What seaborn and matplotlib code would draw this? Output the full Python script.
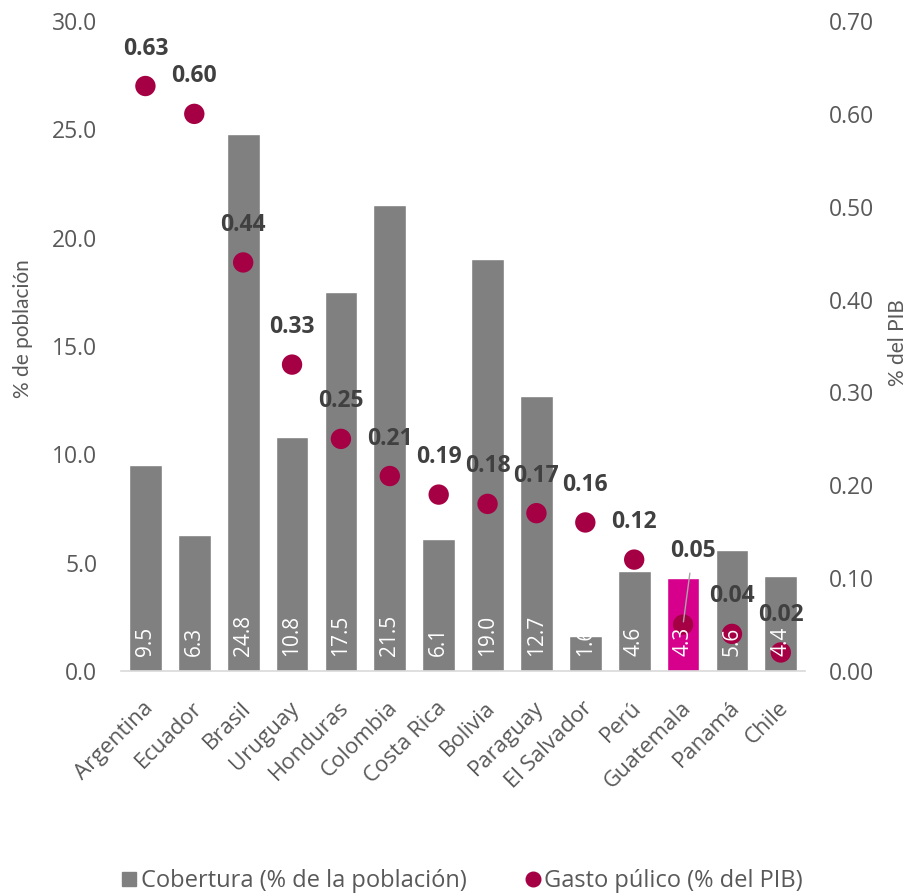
import numpy as np
import pandas as pd
import seaborn as sns
import matplotlib.pyplot as plt
import matplotlib.transforms as mtransforms
from matplotlib.lines import Line2D

# data
paises = ["Argentina", "Ecuador", "Brasil", "Uruguay", "Honduras", "Colombia", "Costa Rica",
          "Bolivia", "Paraguay", "El Salvador", "Perú", "Guatemala", "Panamá", "Chile"]
cobertura = [9.5, 6.3, 24.8, 10.8, 17.5, 21.5, 6.1, 19.0, 12.7, 1.6, 4.6, 4.3, 5.6, 4.4]
gasto = [0.63, 0.60, 0.44, 0.33, 0.25, 0.21, 0.19, 0.18, 0.17, 0.16, 0.12, 0.05, 0.04, 0.02]
destacado = "Guatemala"

GRIS = "#808080"
MAGENTA = "#D6008D"
GRANATE = "#A50044"
TXT = "#595959"

sns.set_theme(style="white")
plt.rcParams['font.family'] = ['Open Sans', 'DejaVu Sans']

df = pd.DataFrame({"pais": paises, "cobertura": cobertura, "gasto": gasto})
colores = {p: (MAGENTA if p == destacado else GRIS) for p in paises}

fig = plt.figure(figsize=(9.13, 8.94), dpi=100)
ax = fig.add_axes([0.1325, 0.2494, 0.7495, 0.7271])

sns.barplot(data=df, x="pais", y="cobertura", hue="pais", palette=colores,
            width=0.67, legend=False, saturation=1, ax=ax)
ax.set_xlim(-0.5, len(paises) - 0.5)
ax.set_ylim(0, 30)
ax.set_yticks(np.arange(0, 30.1, 5))
ax.set_yticklabels([f"{v:.1f}" for v in np.arange(0, 30.1, 5)])
ax.set_xlabel("")
ax.set_ylabel("% de población", fontsize=15, color=TXT, family="Lato")
ax.yaxis.set_label_coords(-0.128, 0.526)
ax.tick_params(axis="y", length=0, pad=17, labelsize=16.5, labelcolor=TXT)
ax.tick_params(axis="x", length=0, pad=6, labelsize=16, labelcolor=TXT)
# nudge rotated country names to sit like the original
shift = mtransforms.ScaledTranslation(-0.03, -0.18, fig.dpi_scale_trans)
for lab in ax.get_xticklabels():
    lab.set_rotation(45)
    lab.set_ha("right")
    lab.set_rotation_mode("anchor")
    lab.set_transform(lab.get_transform() + shift)
for s in ["top", "right", "left"]:
    ax.spines[s].set_visible(False)
ax.spines["bottom"].set_color("#D9D9D9")
ax.spines["bottom"].set_linewidth(1.2)

ax2 = ax.twinx()
sns.scatterplot(data=df, x="pais", y="gasto", color=GRANATE, s=215,
                edgecolor="none", ax=ax2, zorder=3)
ax2.set_ylim(0, 0.70)
ax2.set_yticks(np.arange(0, 0.71, 0.1))
ax2.set_yticklabels([f"{v:.2f}" for v in np.arange(0, 0.71, 0.1)])
ax2.set_ylabel("% del PIB", fontsize=15, color=TXT, family="Lato")
ax2.yaxis.set_label_coords(1.121, 0.505)
ax2.tick_params(axis="y", length=0, pad=17, labelsize=16.5, labelcolor=TXT)
for s in ["top", "right", "left", "bottom"]:
    ax2.spines[s].set_visible(False)

# white value labels inside bars (drawn above the dots), clipped to the bar
for bar, v in zip(ax.patches, cobertura):
    t = ax2.annotate(f"{v:.1f}", (bar.get_x() + bar.get_width() / 2, 0),
                     xycoords=ax.transData, xytext=(0, 11), textcoords="offset points",
                     rotation=90, ha="center", va="bottom", color="white", fontsize=15,
                     zorder=5)
    t.set_clip_path(bar)

for i, (p, g) in enumerate(zip(paises, gasto)):
    if p == destacado:
        ax2.annotate(f"{g:.2f}", (i, g), xytext=(7, 53), textcoords="offset points",
                     ha="center", va="center", fontsize=16.5, fontweight="bold", color="#404040",
                     arrowprops=dict(arrowstyle="-", color="#A6A6A6", lw=1, shrinkA=5, shrinkB=2))
    else:
        ax2.annotate(f"{g:.2f}", (i, g), xytext=(0, 27), textcoords="offset points",
                     ha="center", va="center", fontsize=16.5, fontweight="bold", color="#404040")

handles = [Line2D([], [], marker="s", ls="", color=GRIS, markersize=10.5),
           Line2D([], [], marker="o", ls="", color=GRANATE, markersize=10.5)]
fig.legend(handles, ["Cobertura (% de la población)", "Gasto púlico (% del PIB)"],
           loc="center", bbox_to_anchor=(0.505, 0.014), ncol=2, frameon=False,
           fontsize=17, labelcolor=TXT, handletextpad=0.05, columnspacing=2.4,
           handlelength=0.85)

fig.savefig("out.png", dpi=100)
